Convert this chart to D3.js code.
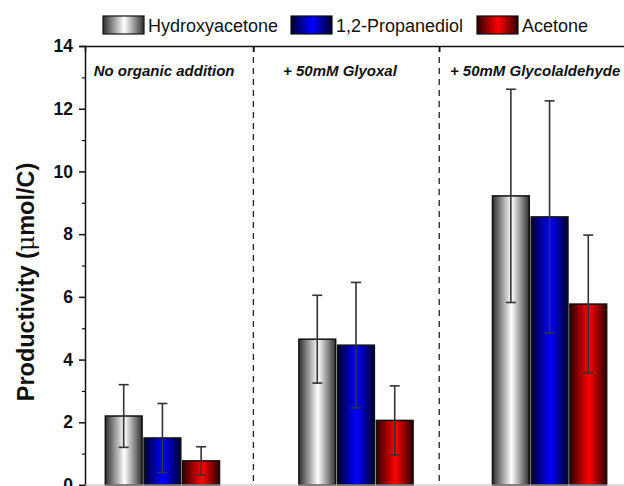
<!DOCTYPE html>
<html>
<head>
<meta charset="utf-8">
<script src="https://cdn.jsdelivr.net/npm/d3@7"></script>
<style>
  body { margin: 0; background: #fff; }
  svg { display: block; font-family: "Liberation Sans", Arial, sans-serif; }
</style>
</head>
<body>
<script>
var W = 624, H = 486;

// data
var groups = ["No organic addition", "+ 50mM Glyoxal", "+ 50mM Glycolaldehyde"];
var series = ["Hydroxyacetone", "1,2-Propanediol", "Acetone"];
var hydroxyacetone = [2.2, 4.65, 9.22];
var hydroxyacetoneErr = [1.0, 1.4, 3.4];
var propanediol = [1.5, 4.46, 8.55];
var propanediolErr = [1.1, 2.0, 3.7];
var acetone = [0.77, 2.06, 5.77];
var acetoneErr = [0.45, 1.1, 2.2];
var dividers = [1.47, 2.43];
var yTicks = [0, 2, 4, 6, 8, 10, 12, 14];

var values = [hydroxyacetone, propanediol, acetone];
var errors = [hydroxyacetoneErr, propanediolErr, acetoneErr];

// gradient colours for each series: edge, centre
var grads = [
  {id: "gGray", edge: "#2e2e2e", mid: "#ffffff"},
  {id: "gBlue", edge: "#00002e", mid: "#0000ff"},
  {id: "gRed", edge: "#2e0000", mid: "#ff0000"}
];

var svg = d3.select("body").append("svg")
  .attr("width", W).attr("height", H);

var defs = svg.append("defs");
grads.forEach(function(g){
  var lg = defs.append("linearGradient").attr("id", g.id)
    .attr("x1", "0%").attr("x2", "100%").attr("y1", "0%").attr("y2", "0%");
  lg.append("stop").attr("offset", "0%").attr("stop-color", g.edge);
  lg.append("stop").attr("offset", "52%").attr("stop-color", g.mid);
  lg.append("stop").attr("offset", "100%").attr("stop-color", g.edge);
});

var x = d3.scaleLinear().domain([0.6, 3.4]).range([85, 627]);
var y = d3.scaleLinear().domain([0, 14]).range([485, 46]);

var offsets = [-0.2, 0, 0.2];
var barW = 0.19;

// dashed group dividers
svg.selectAll(".div").data(dividers).enter().append("line")
  .attr("x1", function(d){ return x(d); })
  .attr("x2", function(d){ return x(d); })
  .attr("y1", y(14)).attr("y2", y(0))
  .attr("stroke", "#222").attr("stroke-width", 1.3)
  .attr("stroke-dasharray", "6,5");

// bars
for (var s = 0; s < series.length; s++) {
  for (var g = 0; g < groups.length; g++) {
    var cx = g + 1 + offsets[s];
    svg.append("rect")
      .attr("x", x(cx - barW/2))
      .attr("width", x(cx + barW/2) - x(cx - barW/2))
      .attr("y", y(values[s][g]))
      .attr("height", y(0) - y(values[s][g]))
      .attr("fill", "url(#" + grads[s].id + ")")
      .attr("stroke", "#111").attr("stroke-width", 1.5);
  }
}

// error bars
for (var s = 0; s < series.length; s++) {
  for (var g = 0; g < groups.length; g++) {
    var cx = x(g + 1 + offsets[s]);
    var hi = y(values[s][g] + errors[s][g]);
    var lo = y(values[s][g] - errors[s][g]);
    var eb = svg.append("g").attr("stroke", "#333").attr("stroke-width", 1.6);
    eb.append("line").attr("x1", cx).attr("x2", cx).attr("y1", hi).attr("y2", lo);
    eb.append("line").attr("x1", cx - 5).attr("x2", cx + 5).attr("y1", hi).attr("y2", hi);
    eb.append("line").attr("x1", cx - 5).attr("x2", cx + 5).attr("y1", lo).attr("y2", lo);
  }
}

// group labels
var labelX = [0.645, 1.623, 2.485];
svg.selectAll(".glabel").data(groups).enter().append("text")
  .attr("x", function(d, i){ return x(labelX[i]); })
  .attr("y", 76)
  .attr("font-size", 15).attr("font-weight", "bold").attr("font-style", "italic")
  .attr("fill", "#111")
  .text(function(d){ return d; });

// y axis with minor ticks
var yAxis = d3.axisLeft(y).tickValues(yTicks).tickSize(6).tickPadding(6);
var ya = svg.append("g").attr("transform", "translate(85,0)").call(yAxis);
ya.select(".domain").attr("stroke", "#111").attr("stroke-width", 1.5);
ya.selectAll(".tick line").attr("stroke", "#111").attr("stroke-width", 1.5);
ya.selectAll(".tick text").attr("font-size", 17.5).attr("font-weight", "bold")
  .attr("fill", "#111").attr("font-family", "Liberation Sans, Arial, sans-serif");
var minor = d3.axisLeft(y).tickValues([1, 3, 5, 7, 9, 11, 13]).tickSize(3).tickFormat("");
var ym = svg.append("g").attr("transform", "translate(85,0)").call(minor);
ym.select(".domain").remove();
ym.selectAll(".tick line").attr("stroke", "#111").attr("stroke-width", 1.2);

// top axis
var topAxis = d3.axisTop(x).tickValues(dividers).tickSize(-6).tickFormat("");
var ta = svg.append("g").attr("transform", "translate(0," + y(14) + ")").call(topAxis);
ta.select(".domain").attr("stroke", "#111").attr("stroke-width", 1.5);
ta.selectAll(".tick line").attr("stroke", "#111").attr("stroke-width", 1.5);

// bottom baseline
svg.append("line").attr("x1", 85).attr("x2", W).attr("y1", y(0)).attr("y2", y(0))
  .attr("stroke", "#bbb").attr("stroke-width", 1);

// y title
var yt = svg.append("text")
  .attr("transform", "translate(34,282) rotate(-90)")
  .attr("text-anchor", "middle")
  .attr("font-size", 23.5).attr("font-weight", "bold").attr("fill", "#111");
yt.append("tspan").text("Productivity (");
yt.append("tspan").attr("font-weight", "normal").attr("font-family", "DejaVu Serif, serif").text("\u03bc");
yt.append("tspan").text("mol/C)");

// legend
var legX = [103, 291, 477];
var leg = svg.selectAll(".leg").data(series).enter().append("g")
  .attr("transform", function(d, i){ return "translate(" + legX[i] + ",16)"; });
leg.append("rect").attr("width", 41).attr("height", 18)
  .attr("fill", function(d, i){ return "url(#" + grads[i].id + ")"; })
  .attr("stroke", "#111").attr("stroke-width", 1.2);
leg.append("text").attr("x", 45).attr("y", 16)
  .attr("font-size", 18).attr("fill", "#111")
  .text(function(d){ return d; });
</script>
</body>
</html>
